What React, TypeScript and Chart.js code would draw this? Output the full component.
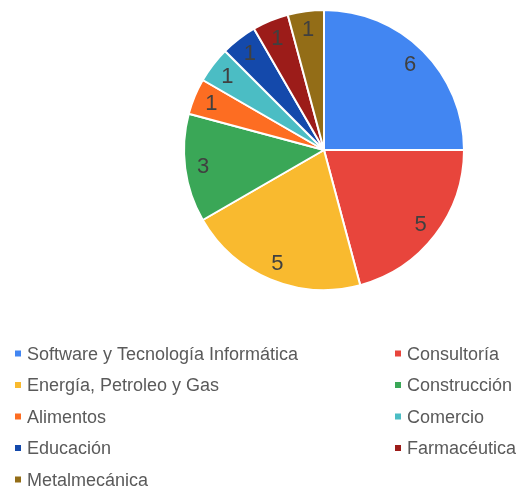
import React, { useEffect, useRef } from "react";
import { Chart, registerables } from "chart.js";

Chart.register(...registerables);

const categories = [
  "Software y Tecnología Informática",
  "Consultoría",
  "Energía, Petroleo y Gas",
  "Construcción",
  "Alimentos",
  "Comercio",
  "Educación",
  "Farmacéutica",
  "Metalmecánica",
];
const values = [6, 5, 5, 3, 1, 1, 1, 1, 1];
const colors = [
  "#4286F2",
  "#E8453C",
  "#F9BA2F",
  "#3AA757",
  "#FD6D22",
  "#4BBDC4",
  "#1449AB",
  "#9C1C19",
  "#936D17",
];

const FONT = "'Liberation Sans', Arial, sans-serif";

const sliceLabelPlugin = {
  id: "sliceLabels",
  afterDatasetsDraw(chart: any) {
    const ctx = chart.ctx;
    const meta = chart.getDatasetMeta(0);
    ctx.save();
    ctx.font = `22px ${FONT}`;
    ctx.fillStyle = "#404040";
    ctx.textAlign = "center";
    ctx.textBaseline = "middle";
    meta.data.forEach((arc: any, i: number) => {
      const { x, y, startAngle, endAngle, outerRadius } = arc.getProps(
        ["x", "y", "startAngle", "endAngle", "outerRadius"],
        true
      );
      const mid = (startAngle + endAngle) / 2;
      const r = outerRadius * 0.87;
      ctx.fillText(String(values[i]), x + Math.cos(mid) * r, y + Math.sin(mid) * r + 1);
    });
    ctx.restore();
  },
};

const legendPlugin = {
  id: "gridLegend",
  afterDraw(chart: any) {
    const ctx = chart.ctx;
    const colX = [15, 395];
    const baseY0 = 359.5;
    const rowStep = 31.5;
    ctx.save();
    ctx.font = `18px ${FONT}`;
    ctx.textBaseline = "alphabetic";
    ctx.textAlign = "left";
    categories.forEach((label, i) => {
      const col = i % 2;
      const row = Math.floor(i / 2);
      const x = colX[col];
      const y = baseY0 + row * rowStep;
      ctx.fillStyle = colors[i];
      ctx.fillRect(x, y - 9, 6, 6);
      ctx.fillStyle = "#5a5a5a";
      ctx.fillText(label, x + 12, y);
    });
    ctx.restore();
  },
};

export default function App() {
  const ref = useRef<HTMLCanvasElement | null>(null);
  useEffect(() => {
    document.body.style.margin = "0";
    if (!ref.current) return;
    const chart = new Chart(ref.current, {
      type: "pie",
      data: {
        labels: categories,
        datasets: [
          {
            data: values,
            backgroundColor: colors,
            borderColor: "#ffffff",
            borderWidth: 2,
          },
        ],
      },
      options: {
        animation: false,
        responsive: false,
        layout: { padding: { left: 183, top: 9, right: 54, bottom: 198 } },
        plugins: {
          legend: { display: false },
          tooltip: { enabled: false },
        },
      },
      plugins: [sliceLabelPlugin, legendPlugin],
    });
    return () => chart.destroy();
  }, []);
  return (
    <div style={{ width: 519, height: 489 }}>
      <canvas ref={ref} width={519} height={489} style={{ width: 519, height: 489 }} />
    </div>
  );
}
